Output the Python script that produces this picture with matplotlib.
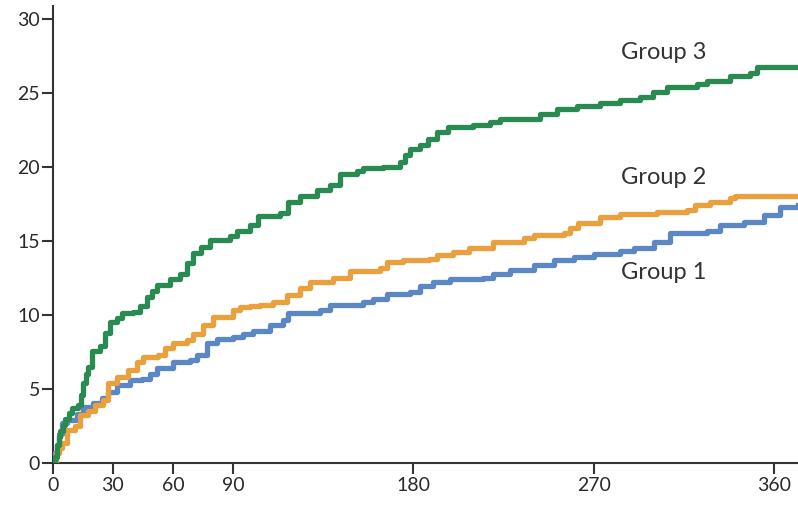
import matplotlib
matplotlib.use("Agg")
import matplotlib.pyplot as plt

# cumulative incidence (%), step points (day, value)
group3_days = [0, 1.2, 2, 3, 3.6, 5, 6, 8, 9.5, 12.6, 14, 15.3, 16.5, 17.8, 19.5, 23.6,
               26, 28.6, 32, 34.4, 40, 43.6, 47, 49.5, 52, 58.5, 63.5, 67, 70, 74, 78.5,
               88.5, 92, 98.5, 102.7, 113.5, 117.6, 123.5, 131.8, 138.4, 143.4, 151.8,
               155, 165, 173.4, 176, 178.4, 183.4, 187.5, 191.7, 197.5, 210, 218.3,
               223.3, 243.3, 251.6, 261.6, 273, 283, 293, 299.8, 306.5, 321.5, 326.5,
               338, 348, 351.5, 372]
group3_vals = [0, 0.4, 1.2, 1.8, 2.2, 2.6, 3.0, 3.4, 3.7, 3.9, 4.6, 5.4, 6.0, 6.5, 7.6, 7.9,
               8.8, 9.5, 9.8, 10.15, 10.2, 10.6, 11.2, 11.6, 12.0, 12.4, 12.8, 13.5, 14.2,
               14.6, 15.05, 15.3, 15.7, 16.1, 16.7, 16.9, 17.6, 18.0, 18.4, 18.8, 19.5,
               19.7, 19.9, 20.0, 20.3, 20.8, 21.2, 21.5, 21.9, 22.36, 22.7, 22.8, 23.0,
               23.2, 23.55, 23.9, 24.1, 24.3, 24.5, 24.7, 25.05, 25.4, 25.55, 25.8, 26.1,
               26.3, 26.75, 26.75]

group2_days = [0, 1.5, 3, 4.5, 7, 11, 13.6, 17.8, 21, 25.3, 27.8, 32, 37.7, 42, 45.2, 52.7,
               56, 60.2, 67, 70, 75, 80, 90, 93.5, 98.5, 103.5, 110, 116.8, 123.5, 128.5,
               140, 148.4, 163.4, 166.7, 175, 188, 191.7, 200, 208, 220, 235, 240, 255,
               258.3, 262.4, 273.2, 283.2, 301.5, 316.5, 320.6, 328, 338, 340.6, 372]
group2_vals = [0, 0.7, 1.0, 1.35, 2.25, 2.5, 3.25, 3.5, 3.9, 4.3, 5.4, 5.85, 6.3, 6.85, 7.2,
               7.3, 7.75, 8.1, 8.3, 8.75, 9.3, 9.9, 10.35, 10.55, 10.6, 10.65, 10.9, 11.35,
               11.8, 12.2, 12.5, 13.0, 13.15, 13.6, 13.7, 13.75, 14.05, 14.25, 14.55, 14.95,
               15.17, 15.4, 15.5, 15.85, 16.2, 16.6, 16.8, 16.95, 17.1, 17.4, 17.65, 17.9,
               18.0, 18.0]

group1_days = [0, 0.3, 2, 3, 4.5, 7, 12, 15.3, 20.3, 24.5, 27.8, 32, 38.6, 44.4, 48.6, 52,
               60.2, 68.5, 71.9, 77, 81.9, 90, 95, 100, 108.5, 115, 117.7, 133.5, 138.5,
               155, 160, 166.7, 178.4, 183.4, 190, 198.4, 215, 220, 228.3, 240, 250, 260,
               270, 283, 290, 300, 308, 326.5, 333, 344.8, 354.8, 363, 372]
group1_vals = [0, 0.7, 1.25, 2.0, 2.7, 2.9, 3.35, 3.8, 4.05, 4.4, 4.8, 5.3, 5.6, 5.7, 6.05,
               6.4, 6.85, 6.95, 7.3, 8.1, 8.35, 8.5, 8.75, 8.9, 9.3, 9.65, 10.15, 10.35,
               10.7, 10.9, 11.1, 11.4, 11.55, 11.95, 12.25, 12.4, 12.5, 12.75, 13.05, 13.4,
               13.7, 13.9, 14.1, 14.3, 14.5, 14.95, 15.5, 15.7, 16.05, 16.3, 16.75, 17.3,
               17.4]

x_ticks = [0, 30, 60, 90, 180, 270, 360]
y_ticks = [0, 5, 10, 15, 20, 25, 30]

plt.rcParams['font.family'] = ['Lato', 'DejaVu Sans']

fig = plt.figure(figsize=(7.98, 5.05), dpi=100)
ax = fig.add_axes([0.066, 0.0826, 0.934, 0.9054])

ax.step(group1_days, group1_vals, where='post', color='#5b87c5', lw=3.8, zorder=3)
ax.step(group2_days, group2_vals, where='post', color='#e9a03d', lw=3.8, zorder=3)
ax.step(group3_days, group3_vals, where='post', color='#2a8b52', lw=3.8, zorder=4)

ax.text(283.7, 27.7, 'Group 3', fontsize=17, color='#333333', ha='left', va='center')
ax.text(283.7, 19.3, 'Group 2', fontsize=17, color='#333333', ha='left', va='center')
ax.text(283.7, 12.9, 'Group 1', fontsize=17, color='#333333', ha='left', va='center')

ax.set_xlim(0, 372)
ax.set_ylim(0, 30.84)
ax.set_xticks(x_ticks)
ax.set_yticks(y_ticks)

for s in ['top', 'right']:
    ax.spines[s].set_visible(False)
for s in ['left', 'bottom']:
    ax.spines[s].set_linewidth(1.5)
    ax.spines[s].set_color('#333333')

ax.tick_params(axis='both', length=8, width=1.5, color='#333333',
               labelsize=14, labelcolor='#2a2a2a')
ax.tick_params(axis='x', pad=2)
ax.tick_params(axis='y', pad=1)

fig.savefig('out.png', dpi=100)
